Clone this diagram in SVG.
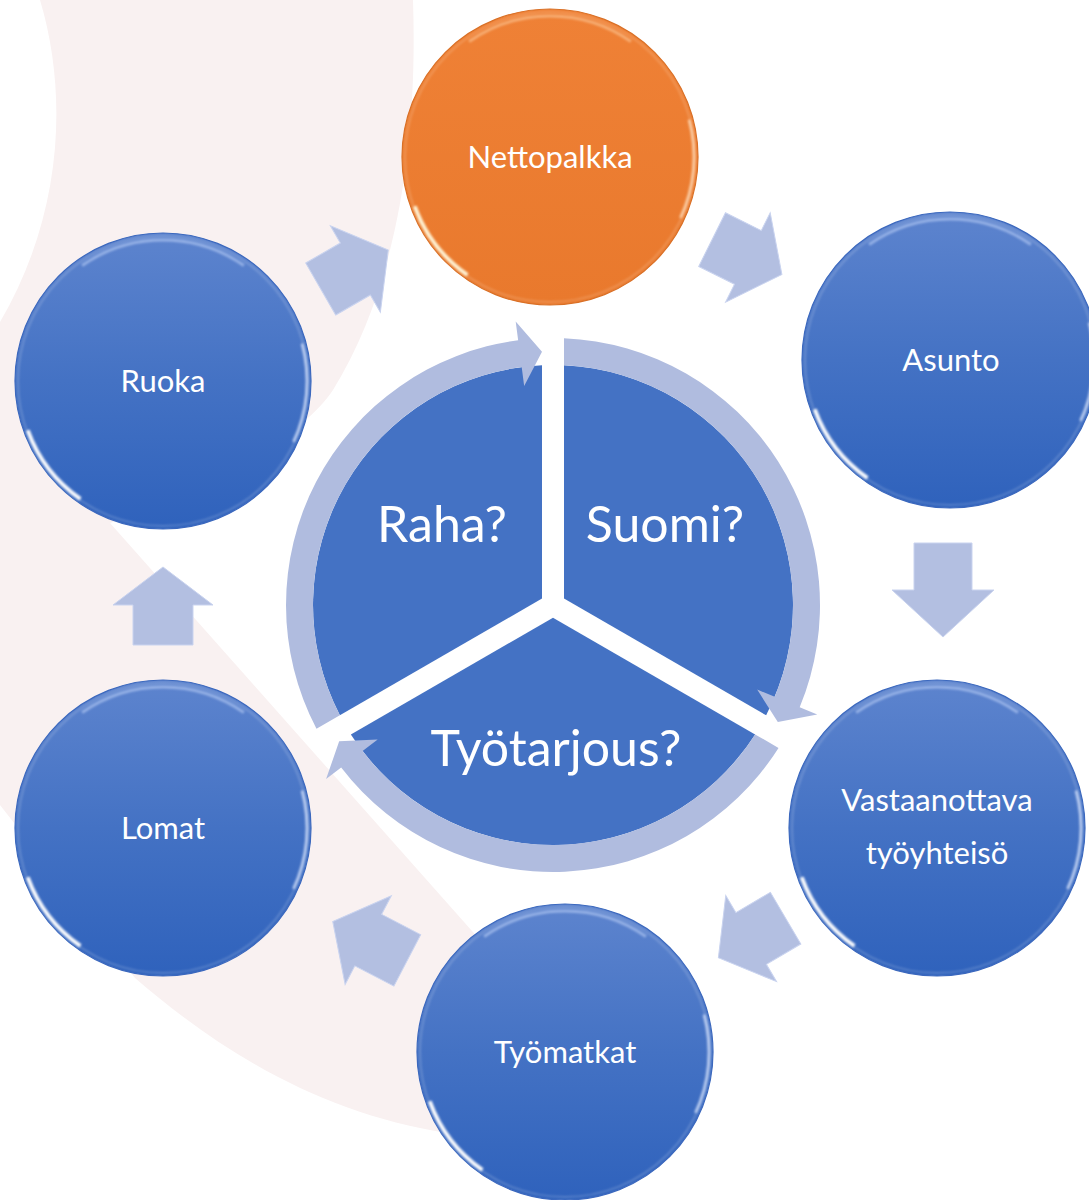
<svg xmlns="http://www.w3.org/2000/svg" xmlns:xlink="http://www.w3.org/1999/xlink" width="1089" height="1200" viewBox="0 0 1089 1200">
<style>
.bg{fill:#f9f1f1;}
.blue{fill:url(#gBlue);stroke:#3a67bd;stroke-width:1.2;}
.orange{fill:url(#gOrange);stroke:#d96f25;stroke-width:1.2;}
.lbl{font-family:Lato,'Open Sans','Liberation Sans',sans-serif;font-size:31px;fill:#ffffff;text-anchor:middle;}
.big{font-family:Lato,'Open Sans','Liberation Sans',sans-serif;font-size:50px;fill:#ffffff;text-anchor:middle;}
.sector{fill:#4472c4;}
.ring{fill:#b0bcdf;}
.barrow{fill:#b3bfe1;stroke:#c9d3ef;stroke-width:1;}
</style>
<defs>
<linearGradient id="gBlue" x1="0" y1="0" x2="0" y2="1">
<stop offset="0" stop-color="#5d84ce"/>
<stop offset="0.5" stop-color="#4472c4"/>
<stop offset="1" stop-color="#2f62bc"/>
</linearGradient>
<linearGradient id="gOrange" x1="0" y1="0" x2="0" y2="1">
<stop offset="0" stop-color="#ef8136"/>
<stop offset="1" stop-color="#e9792d"/>
</linearGradient>
<filter id="soft" x="-20%" y="-20%" width="140%" height="140%">
<feGaussianBlur stdDeviation="1.3"/>
</filter>
<g id="bevel" fill="none" filter="url(#soft)">
<circle r="145" stroke="#ffffff" stroke-opacity="0.18" stroke-width="2"/>
<path d="M-80.9,-115.5 A141,141 0 0 1 80.9,-115.5" stroke="#cfe0ff" stroke-opacity="0.5" stroke-width="3"/>
<path d="M139.1,-37.3 A144,144 0 0 1 130.5,60.9" stroke="#dfeaff" stroke-opacity="0.7" stroke-width="3"/>
<path d="M-82.6,118 A144,144 0 0 1 -135.3,49.2" stroke="#ffffff" stroke-opacity="0.95" stroke-width="4"/>
</g>
<g id="bevelO" fill="none" filter="url(#soft)">
<circle r="145" stroke="#fff2dc" stroke-opacity="0.2" stroke-width="2"/>
<path d="M-80.9,-115.5 A141,141 0 0 1 80.9,-115.5" stroke="#ffd9b0" stroke-opacity="0.5" stroke-width="3"/>
<path d="M139.1,-37.3 A144,144 0 0 1 130.5,60.9" stroke="#ffe6c8" stroke-opacity="0.7" stroke-width="3"/>
<path d="M-82.6,118 A144,144 0 0 1 -135.3,49.2" stroke="#fff6d8" stroke-opacity="0.95" stroke-width="4"/>
</g>
<path id="arrS" d="M-39,-30 L1,-30 L1,-50 L39,0 L1,50 L1,30 L-39,30 Z"/>
<path id="arrM" d="M-42,-29 L2,-29 L2,-50 L42,0 L2,50 L2,29 L-42,29 Z"/>
<path id="arrL" d="M-47,-29 L0,-29 L0,-51 L47,0 L0,51 L0,29 L-47,29 Z"/>
</defs>

<rect width="1089" height="1200" fill="#ffffff"/>
<path class="bg" d="M40,0 L413,0 C418,150 395,290 333,390 C300,440 200,490 110,523 L480,940 L540,1010 L570,1142 C500,1142 470,1137 447,1133 C330,1115 230,1060 135,978 L0,805 L0,322 C60,220 70,100 40,0 Z"/>

<g id="center-cycle">
<path id="sector-raha" class="sector" d="M542,598.6 L542,365.25 A240,240 0 0 0 339.87,715.34 Z"/>
<path id="sector-suomi" class="sector" d="M564,598.6 L564,365.25 A240,240 0 0 1 766.13,715.34 Z"/>
<path id="sector-tyotarjous" class="sector" d="M553,617.7 L755.13,734.4 A240,240 0 0 1 350.87,734.4 Z"/>
<text class="big" x="442" y="542">Raha?</text>
<text class="big" x="665" y="542">Suomi?</text>
<text class="big" x="556" y="766">Työtarjous?</text>
</g>

<g id="connectors">
<path class="ring" d="M316.48,728.86 A267,267 0 0 1 518.16,340.28 L515.68,321.45 L542,351.74 L524.16,385.9 L521.68,367.05 A240,240 0 0 0 339.87,715.34 Z"/>
<path class="ring" d="M564,338.23 A267,267 0 0 1 799.68,707.18 L817.23,714.45 L777.82,722.1 L757.18,689.57 L774.73,696.84 A240,240 0 0 0 564,365.25 Z"/>
<path class="ring" d="M778.52,747.92 A267,267 0 0 1 341.18,767.54 L326.1,779.1 L339.18,741.16 L377.67,739.54 L362.6,751.1 A240,240 0 0 0 755.13,734.4 Z"/>
<use xlink:href="#arrS" href="#arrS" class="barrow" transform="translate(354.5,269.5) rotate(-30)"/>
<use xlink:href="#arrS" href="#arrS" class="barrow" transform="translate(747,257) rotate(26.5)"/>
<use xlink:href="#arrL" href="#arrL" class="barrow" transform="translate(943,590) rotate(90)"/>
<use xlink:href="#arrS" href="#arrS" class="barrow" transform="translate(752,938) rotate(149.5)"/>
<use xlink:href="#arrM" href="#arrM" class="barrow" transform="translate(370,941) rotate(207.5)"/>
<use xlink:href="#arrS" href="#arrS" class="barrow" transform="translate(163,606) rotate(-90)"/>
</g>

<g id="node-nettopalkka">
<circle class="orange" cx="550" cy="157" r="148"/>
<use xlink:href="#bevelO" href="#bevelO" x="550" y="157"/>
<text class="lbl" x="550" y="168">Nettopalkka</text>
</g>
<g id="node-asunto">
<circle class="blue" cx="950" cy="360" r="148"/>
<use xlink:href="#bevel" href="#bevel" x="950" y="360"/>
<text class="lbl" x="951" y="371">Asunto</text>
</g>
<g id="node-vastaanottava">
<circle class="blue" cx="937" cy="828" r="148"/>
<use xlink:href="#bevel" href="#bevel" x="937" y="828"/>
<text class="lbl" x="937" y="811">Vastaanottava</text>
<text class="lbl" x="937" y="864">työyhteisö</text>
</g>
<g id="node-tyomatkat">
<circle class="blue" cx="565" cy="1052" r="148"/>
<use xlink:href="#bevel" href="#bevel" x="565" y="1052"/>
<text class="lbl" x="565" y="1063">Työmatkat</text>
</g>
<g id="node-lomat">
<circle class="blue" cx="163" cy="828" r="148"/>
<use xlink:href="#bevel" href="#bevel" x="163" y="828"/>
<text class="lbl" x="163" y="839">Lomat</text>
</g>
<g id="node-ruoka">
<circle class="blue" cx="163" cy="381" r="148"/>
<use xlink:href="#bevel" href="#bevel" x="163" y="381"/>
<text class="lbl" x="163" y="392">Ruoka</text>
</g>
</svg>
